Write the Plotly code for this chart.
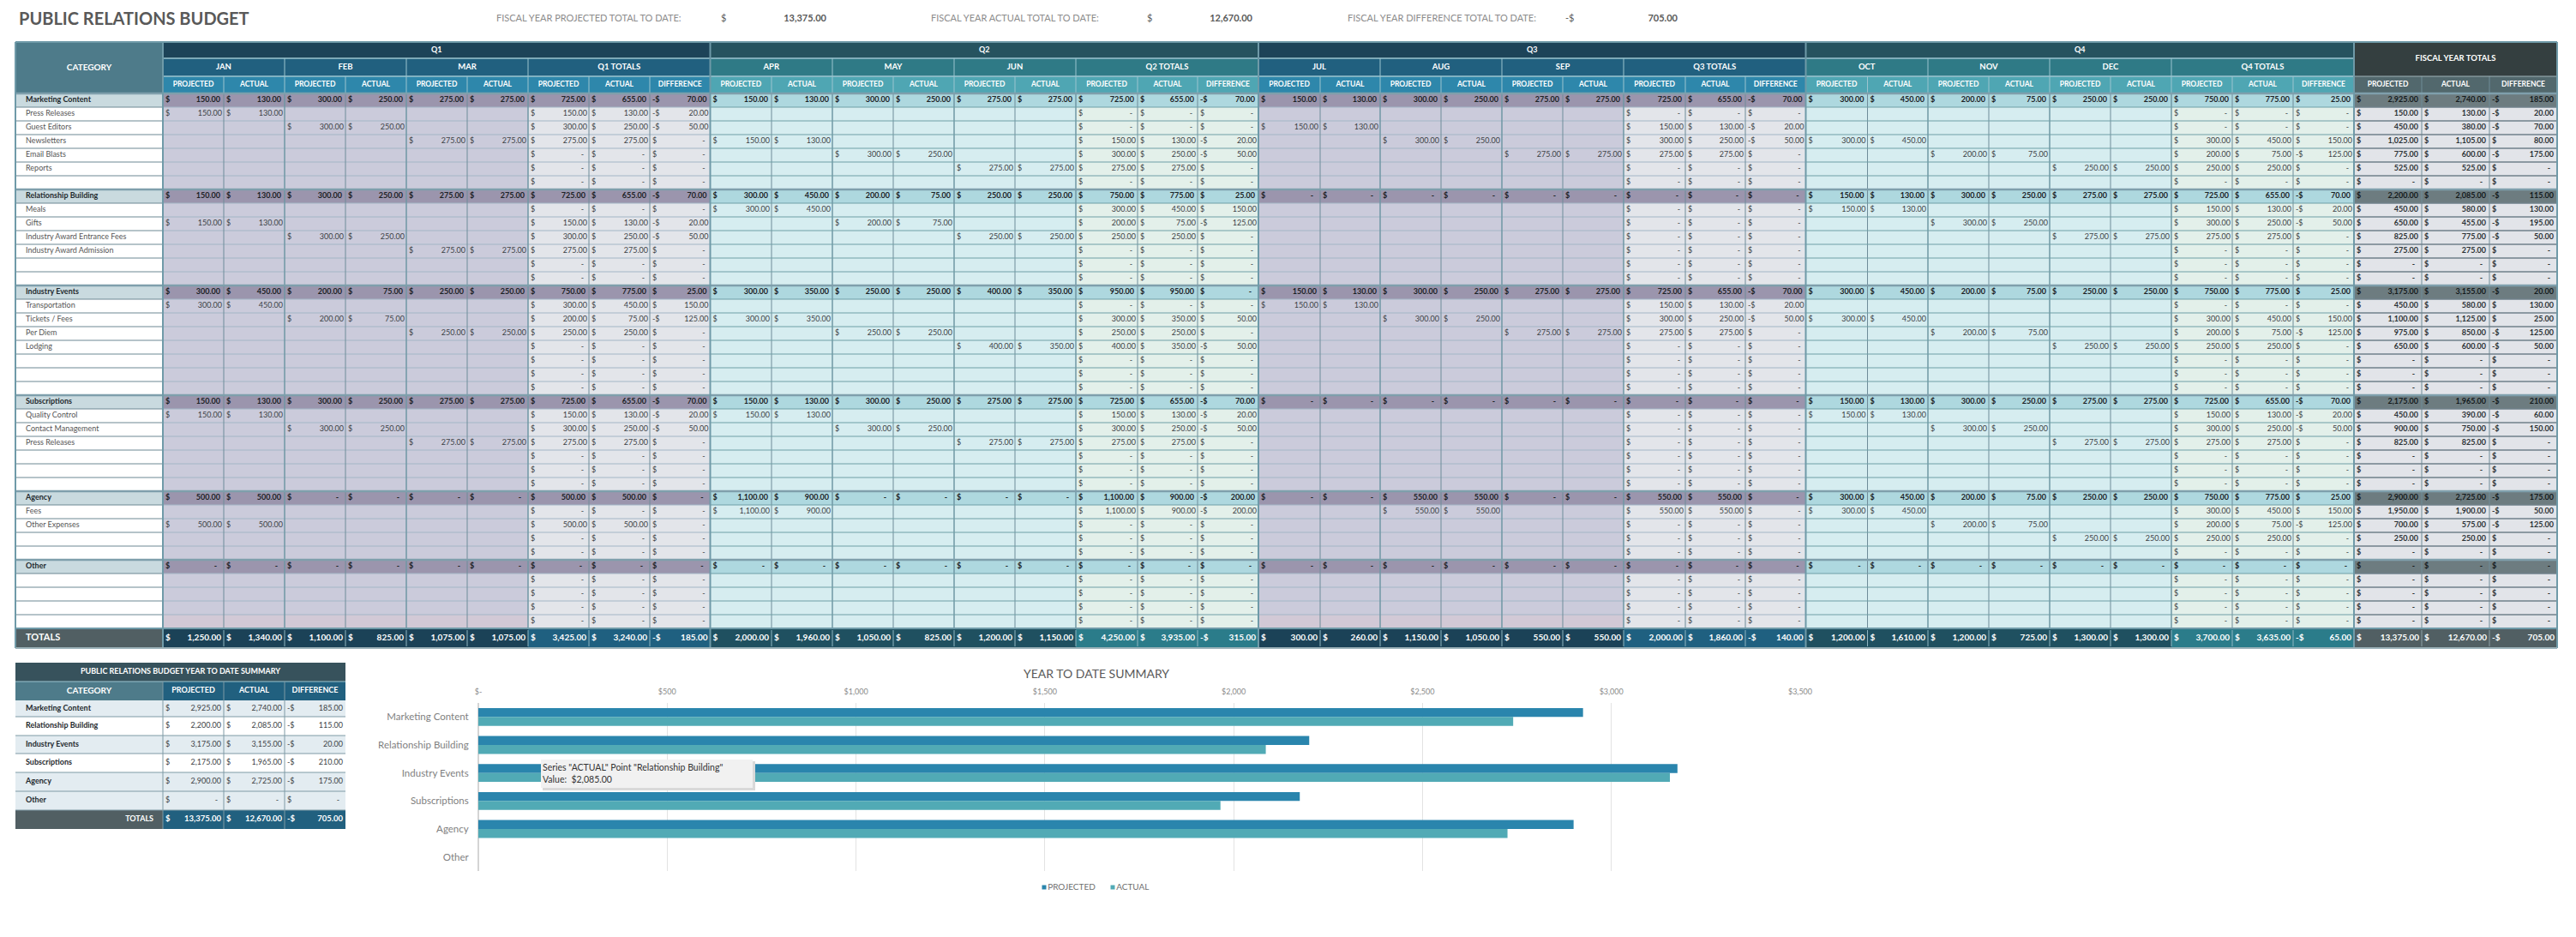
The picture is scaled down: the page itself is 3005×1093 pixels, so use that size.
from collections import defaultdict
import plotly.graph_objects as go

N = None
E = [N, N, N, N, N, N, 0, 0, 0]   # a detail row with no monthly entries
Z = [0] * 9                        # a group row with all zero

TITLE = "PUBLIC RELATIONS BUDGET"
KPI_LABELS = ["FISCAL YEAR PROJECTED TOTAL TO DATE:", "FISCAL YEAR ACTUAL TOTAL TO DATE:", "FISCAL YEAR DIFFERENCE TOTAL TO DATE:"]
KPI_SIGNS = ["$", "$", "-$"]
KPI_VALUES = ["13,375.00", "12,670.00", "705.00"]

MONTHS = [["JAN", "FEB", "MAR"], ["APR", "MAY", "JUN"], ["JUL", "AUG", "SEP"], ["OCT", "NOV", "DEC"]]
GROUP_ROWS = [0, 7, 14, 22, 29, 34]
ROW_LABELS = [
    "Marketing Content", "Press Releases", "Guest Editors", "Newsletters", "Email Blasts", "Reports", "",
    "Relationship Building", "Meals", "Gifts", "Industry Award Entrance Fees", "Industry Award Admission", "", "",
    "Industry Events", "Transportation", "Tickets / Fees", "Per Diem", "Lodging", "", "", "",
    "Subscriptions", "Quality Control", "Contact Management", "Press Releases", "", "", "",
    "Agency", "Fees", "Other Expenses", "", "",
    "Other", "", "", "", "",
]

Q1 = [
    [150, 130, 300, 250, 275, 275, 725, 655, -70],
    [150, 130, N, N, N, N, 150, 130, -20],
    [N, N, 300, 250, N, N, 300, 250, -50],
    [N, N, N, N, 275, 275, 275, 275, 0],
    E, E, E,
    [150, 130, 300, 250, 275, 275, 725, 655, -70],
    E,
    [150, 130, N, N, N, N, 150, 130, -20],
    [N, N, 300, 250, N, N, 300, 250, -50],
    [N, N, N, N, 275, 275, 275, 275, 0],
    E, E,
    [300, 450, 200, 75, 250, 250, 750, 775, 25],
    [300, 450, N, N, N, N, 300, 450, 150],
    [N, N, 200, 75, N, N, 200, 75, -125],
    [N, N, N, N, 250, 250, 250, 250, 0],
    E, E, E, E,
    [150, 130, 300, 250, 275, 275, 725, 655, -70],
    [150, 130, N, N, N, N, 150, 130, -20],
    [N, N, 300, 250, N, N, 300, 250, -50],
    [N, N, N, N, 275, 275, 275, 275, 0],
    E, E, E,
    [500, 500, 0, 0, 0, 0, 500, 500, 0],
    E,
    [500, 500, N, N, N, N, 500, 500, 0],
    E, E,
    Z, E, E, E, E,
]
Q1_TOTALS = [1250, 1340, 1100, 825, 1075, 1075, 3425, 3240, -185]

Q2 = [
    [150, 130, 300, 250, 275, 275, 725, 655, -70],
    E, E,
    [150, 130, N, N, N, N, 150, 130, -20],
    [N, N, 300, 250, N, N, 300, 250, -50],
    [N, N, N, N, 275, 275, 275, 275, 0],
    E,
    [300, 450, 200, 75, 250, 250, 750, 775, 25],
    [300, 450, N, N, N, N, 300, 450, 150],
    [N, N, 200, 75, N, N, 200, 75, -125],
    [N, N, N, N, 250, 250, 250, 250, 0],
    E, E, E,
    [300, 350, 250, 250, 400, 350, 950, 950, 0],
    E,
    [300, 350, N, N, N, N, 300, 350, 50],
    [N, N, 250, 250, N, N, 250, 250, 0],
    [N, N, N, N, 400, 350, 400, 350, -50],
    E, E, E,
    [150, 130, 300, 250, 275, 275, 725, 655, -70],
    [150, 130, N, N, N, N, 150, 130, -20],
    [N, N, 300, 250, N, N, 300, 250, -50],
    [N, N, N, N, 275, 275, 275, 275, 0],
    E, E, E,
    [1100, 900, 0, 0, 0, 0, 1100, 900, -200],
    [1100, 900, N, N, N, N, 1100, 900, -200],
    E, E, E,
    Z, E, E, E, E,
]
Q2_TOTALS = [2000, 1960, 1050, 825, 1200, 1150, 4250, 3935, -315]

Q3 = [
    [150, 130, 300, 250, 275, 275, 725, 655, -70],
    E,
    [150, 130, N, N, N, N, 150, 130, -20],
    [N, N, 300, 250, N, N, 300, 250, -50],
    [N, N, N, N, 275, 275, 275, 275, 0],
    E, E,
    Z, E, E, E, E, E, E,
    [150, 130, 300, 250, 275, 275, 725, 655, -70],
    [150, 130, N, N, N, N, 150, 130, -20],
    [N, N, 300, 250, N, N, 300, 250, -50],
    [N, N, N, N, 275, 275, 275, 275, 0],
    E, E, E, E,
    Z, E, E, E, E, E, E,
    [0, 0, 550, 550, 0, 0, 550, 550, 0],
    [N, N, 550, 550, N, N, 550, 550, 0],
    E, E, E,
    Z, E, E, E, E,
]
Q3_TOTALS = [300, 260, 1150, 1050, 550, 550, 2000, 1860, -140]

Q4 = [
    [300, 450, 200, 75, 250, 250, 750, 775, 25],
    E, E,
    [300, 450, N, N, N, N, 300, 450, 150],
    [N, N, 200, 75, N, N, 200, 75, -125],
    [N, N, N, N, 250, 250, 250, 250, 0],
    E,
    [150, 130, 300, 250, 275, 275, 725, 655, -70],
    [150, 130, N, N, N, N, 150, 130, -20],
    [N, N, 300, 250, N, N, 300, 250, -50],
    [N, N, N, N, 275, 275, 275, 275, 0],
    E, E, E,
    [300, 450, 200, 75, 250, 250, 750, 775, 25],
    E,
    [300, 450, N, N, N, N, 300, 450, 150],
    [N, N, 200, 75, N, N, 200, 75, -125],
    [N, N, N, N, 250, 250, 250, 250, 0],
    E, E, E,
    [150, 130, 300, 250, 275, 275, 725, 655, -70],
    [150, 130, N, N, N, N, 150, 130, -20],
    [N, N, 300, 250, N, N, 300, 250, -50],
    [N, N, N, N, 275, 275, 275, 275, 0],
    E, E, E,
    [300, 450, 200, 75, 250, 250, 750, 775, 25],
    [300, 450, N, N, N, N, 300, 450, 150],
    [N, N, 200, 75, N, N, 200, 75, -125],
    [N, N, N, N, 250, 250, 250, 250, 0],
    E,
    Z, E, E, E, E,
]
Q4_TOTALS = [1200, 1610, 1200, 725, 1300, 1300, 3700, 3635, -65]

FY_PROJECTED = [2925, 150, 450, 1025, 775, 525, 0, 2200, 450, 650, 825, 275, 0, 0, 3175, 450, 1100, 975, 650, 0, 0, 0,
                2175, 450, 900, 825, 0, 0, 0, 2900, 1950, 700, 250, 0, 0, 0, 0, 0, 0]
FY_ACTUAL = [2740, 130, 380, 1105, 600, 525, 0, 2085, 580, 455, 775, 275, 0, 0, 3155, 580, 1125, 850, 600, 0, 0, 0,
             1965, 390, 750, 825, 0, 0, 0, 2725, 1900, 575, 250, 0, 0, 0, 0, 0, 0]
FY_DIFFERENCE = [-185, -20, -70, 80, -175, 0, 0, -115, 130, -195, -50, 0, 0, 0, -20, 130, 25, -125, -50, 0, 0, 0,
                 -210, -60, -150, 0, 0, 0, 0, -175, -50, -125, 0, 0, 0, 0, 0, 0, 0]
FY_TOTALS = [13375, 12670, -705]

SUMMARY_TITLE = "PUBLIC RELATIONS BUDGET YEAR TO DATE SUMMARY"
CATEGORIES = ["Marketing Content", "Relationship Building", "Industry Events", "Subscriptions", "Agency", "Other"]
PROJECTED = [2925, 2200, 3175, 2175, 2900, 0]
ACTUAL = [2740, 2085, 3155, 1965, 2725, 0]
DIFFERENCE = [-185, -115, -20, -210, -175, 0]
SUMMARY_TOTALS = [13375, 12670, -705]

CHART_TITLE = "YEAR TO DATE SUMMARY"
X_TICKS = [0, 500, 1000, 1500, 2000, 2500, 3000, 3500]
X_TICK_LABELS = ["$-", "$500", "$1,000", "$1,500", "$2,000", "$2,500", "$3,000", "$3,500"]
SERIES = ["PROJECTED", "ACTUAL"]
TOOLTIP = ['Series "ACTUAL" Point "Relationship Building"', "Value:  $2,085.00"]

# ---------- layout of the sheet, in page pixels ----------
W, H = 3005, 1093
FONT = "Lato"
X = [18, 190, 261, 332, 403, 474, 545, 616, 687, 758, 828.5,
     900, 971, 1042, 1113, 1184, 1255, 1327, 1397, 1468,
     1540, 1610, 1681, 1752, 1823, 1894, 1966, 2036, 2106.5,
     2178.5, 2249, 2320, 2391, 2462, 2533, 2604, 2675, 2746,
     2825, 2904, 2983]
Y_TOP, Y_Q, Y_M, Y_H = 49, 68, 89, 109
ROW_H = 16
Y_BODY_END = Y_H + ROW_H * len(ROW_LABELS)
Y_END = 756

PAL = [  # purple quarters (Q1, Q3) and teal quarters (Q2, Q4)
    dict(q="#1d4358", m="#21607f", s="#2e87ab", tot_m="#1b4257", tot_t="#1f6080",
         grp="#9b95ad", sub="#cbcbdb", last="#d2c9d6", tsub="#e3e5ea", grp_t="#9b95ad", line="#a3b6c6"),
    dict(q="#26535f", m="#2f7a86", s="#4fa6b3", tot_m="#1f5060", tot_t="#2b7c8a",
         grp="#aed8df", sub="#d6edf0", last="#d6edf0", tsub="#e3f0ea", grp_t="#aed8df", line="#6f9fa6"),
]

rects = defaultdict(list)
segs = defaultdict(list)
texts = defaultdict(list)


def rect(color, x0, x1, y0, y1):
    rects[color].append((x0, x1, y0, y1))


def seg(color, width, x0, y0, x1, y1):
    segs[(color, width)].append((x0, y0, x1, y1))


def text(x, y, s, size=9, color="#3a3a3a", bold=False, pos="middle center"):
    if s != "":
        texts[(size, color, bold, pos)].append((x, y, s))


def money(x0, x1, y, v, size=9, color="#333333", bold=False, inset=2):
    if v is None:
        return
    sign = "-$" if v < 0 else "$"
    text(x0 + 3, y, sign, size, color, bold, "middle right")
    label = f"{abs(v):,.2f}" if v != 0 else "-"
    text(x1 - (inset if v != 0 else inset + 4), y, label, size, color, bold, "middle left")


# ---- title and KPI strip
text(22, 24, TITLE, 20, "#595959", True, "middle right")
for lab, lx, sx, sgn, vx, val in zip(KPI_LABELS, [579, 1086, 1572], [841, 1338, 1826], KPI_SIGNS, [964, 1461, 1957], KPI_VALUES):
    text(lx, 22, lab, 11, "#8c8c8c", False, "middle right")
    text(sx, 22, sgn, 11, "#595959", False, "middle right")
    text(vx, 22, val, 11, "#595959", True, "middle left")

# ---- category column
rect("#4e7b8a", X[0], X[1], Y_TOP, Y_H)
text((X[0] + X[1]) / 2, (Y_TOP + Y_H) / 2, "CATEGORY", 10, "#ffffff", True)
rect("#515f63", X[0], X[1], Y_BODY_END, Y_END)
text(30, (Y_BODY_END + Y_END) / 2, "TOTALS", 11, "#ffffff", True, "middle right")
for r, lab in enumerate(ROW_LABELS):
    y0 = Y_H + r * ROW_H
    grp = r in GROUP_ROWS
    rect("#c9dadf" if grp else "#ffffff", X[0], X[1], y0, y0 + ROW_H)
    text(30, y0 + ROW_H / 2, lab, 9, "#1f2a2e" if grp else "#555555", grp, "middle right")
    seg("#6d8893", 1, X[0], y0 + ROW_H, X[1], y0 + ROW_H)

# ---- the four quarters
for qi, (rows, totals, months) in enumerate(zip([Q1, Q2, Q3, Q4], [Q1_TOTALS, Q2_TOTALS, Q3_TOTALS, Q4_TOTALS], MONTHS)):
    pal = PAL[qi % 2]
    c0 = 2 + 9 * qi
    e = X[c0 - 1:c0 + 9]  # ten edges of this quarter
    rect(pal["q"], e[0], e[9], Y_TOP, Y_Q)
    rect(pal["m"], e[0], e[9], Y_Q, Y_M)
    rect(pal["s"], e[0], e[9], Y_M, Y_H)
    text((e[0] + e[9]) / 2, (Y_TOP + Y_Q) / 2, f"Q{qi + 1}", 9, "#ffffff", True)
    for mi, mon in enumerate(months):
        text((e[2 * mi] + e[2 * mi + 2]) / 2, (Y_Q + Y_M) / 2, mon, 9.5, "#ffffff", True)
    text((e[6] + e[9]) / 2, (Y_Q + Y_M) / 2, f"Q{qi + 1} TOTALS", 9.5, "#ffffff", True)
    for k in range(9):
        name = "DIFFERENCE" if k == 8 else ("PROJECTED" if k % 2 == 0 and k < 6 or k == 6 else "ACTUAL")
        text((e[k] + e[k + 1]) / 2, (Y_M + Y_H) / 2, name, 8.5, "#ffffff", True)
    # body
    for r, row in enumerate(rows):
        y0 = Y_H + r * ROW_H
        yc = y0 + ROW_H / 2
        grp = r in GROUP_ROWS
        fill = pal["grp"] if grp else (pal["last"] if r == len(rows) - 1 else pal["sub"])
        rect(fill, e[0], e[6], y0, y0 + ROW_H)
        rect(pal["grp_t"] if grp else pal["tsub"], e[6], e[9], y0, y0 + ROW_H)
        seg(pal["line"], 1, e[0], y0 + ROW_H, e[9], y0 + ROW_H)
        for k, v in enumerate(row):
            money(e[k], e[k + 1], yc, v, 9, "#1b2226" if grp else "#3c4246", grp, 4 if grp else 2)
    # totals row
    rect(pal["tot_m"], e[0], e[6], Y_BODY_END, Y_END)
    rect(pal["tot_t"], e[6], e[9], Y_BODY_END, Y_END)
    for k, v in enumerate(totals):
        money(e[k], e[k + 1], (Y_BODY_END + Y_END) / 2, v, 10, "#ffffff", True, 3)
    # verticals
    for k in range(1, 9):
        heavy = k in (2, 4, 6)
        seg("#6f97a4" if heavy else "#6f8c99", 1.5 if heavy else 1, e[k], Y_H, e[k], Y_BODY_END)
        seg("#8fb5c1", 1, e[k], Y_BODY_END + 2, e[k], Y_END - 2)
        seg("#9cc4cf", 1, e[k], Y_M if not heavy else Y_Q, e[k], Y_H)
    seg("#9cc4cf", 1.5, e[0], Y_Q, e[9], Y_Q)
    seg("#9cc4cf", 1.5, e[0], Y_M, e[9], Y_M)

# ---- fiscal year block
fx = X[-4:]
rect("#343f40", fx[0], fx[3], Y_TOP, Y_M)
rect("#52686d", fx[0], fx[3], Y_M, Y_H)
text((fx[0] + fx[3]) / 2, (Y_TOP + Y_M) / 2, "FISCAL YEAR TOTALS", 9.5, "#ffffff", True)
for k, name in enumerate(["PROJECTED", "ACTUAL", "DIFFERENCE"]):
    text((fx[k] + fx[k + 1]) / 2, (Y_M + Y_H) / 2, name, 8.5, "#ffffff", True)
for r, trip in enumerate(zip(FY_PROJECTED, FY_ACTUAL, FY_DIFFERENCE)):
    y0 = Y_H + r * ROW_H
    grp = r in GROUP_ROWS
    rect("#6d7c80" if grp else "#e2e4e9", fx[0], fx[3], y0, y0 + ROW_H)
    seg("#6f808a", 1.5, fx[0], y0 + ROW_H, fx[3], y0 + ROW_H)
    for k, v in enumerate(trip):
        money(fx[k], fx[k + 1], y0 + ROW_H / 2, v, 9, "#141a1c" if grp else "#2c3235", True, 4)
rect("#515f63", fx[0], fx[3], Y_BODY_END, Y_END)
for k, v in enumerate(FY_TOTALS):
    money(fx[k], fx[k + 1], (Y_BODY_END + Y_END) / 2, v, 10, "#ffffff", True, 3)
for k in (1, 2):
    seg("#6f8c99", 1, fx[k], Y_M, fx[k], Y_BODY_END)
    seg("#8fa2a8", 1, fx[k], Y_BODY_END + 2, fx[k], Y_END - 2)
seg("#9fb3b8", 1, fx[0], Y_M, fx[3], Y_M)

# ---- strong rules across the sheet
for r in GROUP_ROWS:
    y0 = Y_H + r * ROW_H
    seg("#7f9fac", 2.5, X[0], y0, X[-1], y0)
for i in (1, 10, 19, 28, 37):
    seg("#6f9aa8", 2, X[i], Y_TOP, X[i], Y_END)
seg("#6f9aa8", 2, X[0], Y_TOP, X[-1], Y_TOP)
seg("#6f9aa8", 2, X[0], Y_BODY_END, X[-1], Y_BODY_END)
seg("#9db3ba", 2, X[0], Y_END, X[-1], Y_END)
seg("#6f9aa8", 2, X[0], Y_TOP, X[0], Y_END)
seg("#6f9aa8", 2, X[-1], Y_TOP, X[-1], Y_END)

# ---- year to date summary table
SX = [18, 190, 261, 332, 403]
SY = [817, 836, 858, 879, 901, 923, 945, 967]
rect("#37525c", SX[0], SX[4], 773, 795)
text((SX[0] + SX[4]) / 2, 784, SUMMARY_TITLE, 9, "#ffffff", True)
rect("#4e7b8a", SX[0], SX[1], 795, 817)
rect("#21607f", SX[1], SX[4], 795, 817)
text((SX[0] + SX[1]) / 2, 806, "CATEGORY", 10, "#ffffff", True)
for k, name in enumerate(["PROJECTED", "ACTUAL", "DIFFERENCE"]):
    text((SX[k + 1] + SX[k + 2]) / 2, 806, name, 9, "#ffffff", True)
for r, (cat, p, a, d) in enumerate(zip(CATEGORIES, PROJECTED, ACTUAL, DIFFERENCE)):
    fill = "#ffffff" if r in (1, 3) else "#e3ecf1"
    rect(fill, SX[0], SX[4], SY[r], SY[r + 1])
    yc = (SY[r] + SY[r + 1]) / 2
    text(30, yc, cat, 9, "#1f2a2e", True, "middle right")
    for k, v in enumerate((p, a, d)):
        money(SX[k + 1], SX[k + 2], yc, v, 9, "#3c4246", False, 3)
    seg("#7f9aa5", 1, SX[0], SY[r + 1], SX[4], SY[r + 1])
rect("#515f63", SX[0], SX[1], SY[6], SY[7])
rect("#21607f", SX[1], SX[4], SY[6], SY[7])
text(179, (SY[6] + SY[7]) / 2, "TOTALS", 9, "#ffffff", True, "middle left")
for k, v in enumerate(SUMMARY_TOTALS):
    money(SX[k + 1], SX[k + 2], (SY[6] + SY[7]) / 2, v, 9.5, "#ffffff", True, 3)
for i in (1, 2, 3):
    seg("#7f9aa5", 1, SX[i], 795, SX[i], SY[7])
seg("#9cc4cf", 1, SX[0], 795, SX[4], 795)

# ---- build the figure
fig = go.Figure()
COMMON = dict(xaxis="x", yaxis="y", hoverinfo="skip", showlegend=False)


def add_rects(target, common):
    for color, items in target.items():
        xs, ys = [], []
        for x0, x1, y0, y1 in items:
            xs += [x0, x1, x1, x0, x0, None]
            ys += [y0, y0, y1, y1, y0, None]
        fig.add_trace(go.Scatter(x=xs, y=ys, mode="lines", fill="toself", fillcolor=color,
                                 line=dict(width=0, color=color), **common))


def add_segs(target, common):
    for (color, width), items in target.items():
        xs, ys = [], []
        for x0, y0, x1, y1 in items:
            xs += [x0, x1, None]
            ys += [y0, y1, None]
        fig.add_trace(go.Scatter(x=xs, y=ys, mode="lines", line=dict(color=color, width=width), **common))


def add_texts(target, common):
    for (size, color, bold, pos), items in target.items():
        fig.add_trace(go.Scatter(x=[t[0] for t in items], y=[t[1] for t in items], text=[t[2] for t in items],
                                 mode="text", textposition=pos, cliponaxis=False,
                                 textfont=dict(family=FONT, size=size, color=color, weight="bold" if bold else "normal"),
                                 **common))


add_rects(rects, COMMON)
add_segs(segs, COMMON)
add_texts(texts, COMMON)

# ---- bar chart on its own value axis
BAR_COLORS = ["#2a85ad", "#51aab5"]
for name, vals, col in zip(SERIES, [PROJECTED, ACTUAL], BAR_COLORS):
    fig.add_trace(go.Bar(y=CATEGORIES, x=vals, name=name, orientation="h", marker=dict(color=col, line=dict(width=0)),
                         xaxis="x2", yaxis="y2", showlegend=False, hoverinfo="skip"))

# ---- chart title, legend and tooltip, drawn above the bars
OVER = dict(xaxis="x3", yaxis="y3", hoverinfo="skip", showlegend=False)
over_rects = {"#d9d9d9": [(633, 881, 888, 922)], "#f1f1f1": [(631, 878, 886, 919)]}
add_rects(over_rects, OVER)
over_texts = defaultdict(list)
over_texts[(10.5, "#333333", False, "middle right")] = [(633, 896, TOOLTIP[0]), (633, 910, TOOLTIP[1])]
over_texts[(14, "#595959", False, "middle center")] = [(1279, 787, CHART_TITLE)]
add_texts(over_texts, OVER)
fig.add_trace(go.Scatter(x=[1218, 1298], y=[1035, 1035], text=SERIES, mode="markers+text", textposition="middle right",
                         marker=dict(symbol="square", size=5, color=BAR_COLORS),
                         textfont=dict(family=FONT, size=10, color="#6f6f6f"), **OVER))

px_axis = dict(range=[0, W], domain=[0, 1], visible=False, fixedrange=True, automargin=False)
py_axis = dict(range=[H, 0], domain=[0, 1], visible=False, fixedrange=True, automargin=False)
fig.update_layout(
    width=W, height=H, autosize=False, margin=dict(l=0, r=0, t=0, b=0, pad=0, autoexpand=False),
    paper_bgcolor="#ffffff", plot_bgcolor="rgba(0,0,0,0)",
    font=dict(family=FONT), barmode="group", bargap=0.36, bargroupgap=0,
    xaxis=px_axis, yaxis=py_axis,
    xaxis3=dict(px_axis, anchor="y3"), yaxis3=dict(py_axis, anchor="x3"),
    xaxis2=dict(domain=[558 / W, 2100 / W], range=[0, 3500], side="top", anchor="y2", automargin=False,
                tickvals=X_TICKS, ticktext=X_TICK_LABELS, gridcolor="#e3e3e3", gridwidth=1,
                showline=False, zeroline=True, zerolinecolor="#d4d4d4",
                ticks="outside", ticklen=5, tickcolor="rgba(0,0,0,0)",
                tickfont=dict(family=FONT, size=9, color="#8a8a8a"), fixedrange=True),
    yaxis2=dict(domain=[1 - 1016 / H, 1 - 820 / H], autorange="reversed", anchor="x2", showgrid=False, automargin=False,
                showline=False, ticks="outside", ticklen=8, tickcolor="rgba(0,0,0,0)",
                tickfont=dict(family=FONT, size=11.5, color="#7f7f7f"), fixedrange=True),
)

fig.write_html("out.html", config=dict(displayModeBar=False),
               post_script="document.body.style.margin='0';document.body.style.overflow='hidden';")
